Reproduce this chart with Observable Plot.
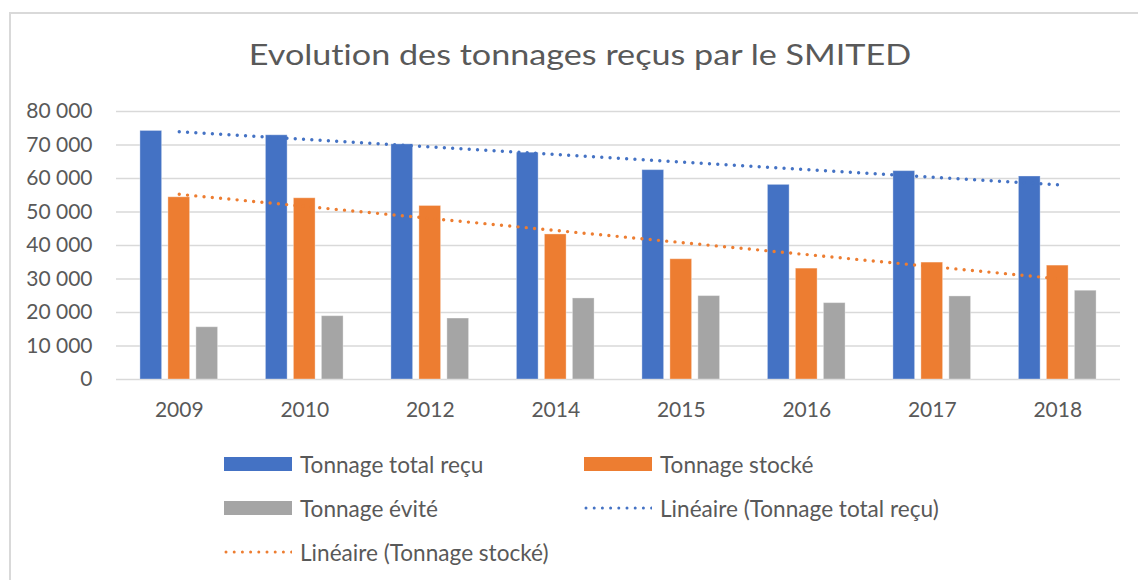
<!DOCTYPE html>
<html>
<head>
<meta charset="utf-8">
<script src="https://cdn.jsdelivr.net/npm/d3@7"></script>
<script src="https://cdn.jsdelivr.net/npm/@observablehq/plot@0.6"></script>
<style>
  html, body { margin: 0; padding: 0; background: #fff; }
  #wrap { position: relative; width: 1138px; height: 580px; overflow: hidden; font-family: Lato, sans-serif; color: #595959; font-variant-ligatures: none; }
  #frame { position: absolute; left: 9px; top: 12px; width: 1200px; height: 700px; border-left: 2px solid #d9d9d9; border-top: 2px solid #d9d9d9; }
  #title { position: absolute; left: 579.5px; top: 34px; transform: translateX(-50%) scaleX(1.22); white-space: nowrap; font-size: 28px; line-height: 40px; color: #595959; }
  #chart { position: absolute; left: 0; top: 90px; }
  .leg { position: absolute; display: flex; align-items: center; font-size: 22.6px; white-space: nowrap; color: #595959; }
  .leg svg { margin-right: 8px; }
</style>
</head>
<body>
<div id="wrap">
  <div id="frame"></div>
  <div id="title">Evolution des tonnages reçus par le SMITED</div>
  <div id="chart"></div>
  <div id="legend"></div>
</div>
<script>
// ---- data ----
const years = ["2009", "2010", "2012", "2014", "2015", "2016", "2017", "2018"];
const totalRecu = [74200, 72900, 70200, 67700, 62500, 58100, 62200, 60600];
const stocke = [54400, 54100, 51800, 43300, 35900, 33100, 34900, 34000];
const evite = [15600, 18900, 18200, 24200, 24900, 22800, 24800, 26500];
const seriesNames = ["Tonnage total reçu", "Tonnage stocké", "Tonnage évité"];
const trendNames = ["Linéaire (Tonnage total reçu)", "Linéaire (Tonnage stocké)"];
const yTicks = [0, 10000, 20000, 30000, 40000, 50000, 60000, 70000, 80000];

// ---- styles ----
const colors = ["#4472C4", "#ED7D31", "#A5A5A5"];
const offsets = [-0.223, 0, 0.223];
const barW = 0.173;

const rows = [];
[totalRecu, stocke, evite].forEach((vals, s) => {
  vals.forEach((v, i) => rows.push({i, s, year: years[i], series: seriesNames[s], value: v}));
});
const trendTotal = totalRecu.map((v, i) => ({i, value: v}));
const trendStock = stocke.map((v, i) => ({i, value: v}));

const fr = d3.formatLocale({decimal: ",", thousands: " ", grouping: [3], currency: ["", ""]});
const fmt = fr.format(",");

const dotted = {strokeWidth: 3.4, strokeDasharray: "0 8.3", strokeLinecap: "round", ci: 0};

const plot = Plot.plot({
  width: 1138,
  height: 340,
  marginTop: 21,
  marginBottom: 51,
  marginLeft: 116,
  marginRight: 18,
  style: {fontFamily: "Lato, sans-serif", fontSize: "21px", color: "#595959", background: "transparent"},
  x: {type: "linear", domain: [-0.5, 7.5]},
  y: {domain: [0, 80000]},
  marks: [
    Plot.ruleY(yTicks, {stroke: "#d9d9d9", strokeWidth: 1.6}),
    Plot.rectY(rows, {
      x1: d => d.i + offsets[d.s] - barW / 2,
      x2: d => d.i + offsets[d.s] + barW / 2,
      y1: 0,
      y2: "value",
      fill: d => colors[d.s],
      stroke: "#ffffff",
      strokeOpacity: 0.35,
      strokeWidth: 1
    }),
    Plot.linearRegressionY(trendTotal, {x: "i", y: "value", stroke: colors[0], ...dotted}),
    Plot.linearRegressionY(trendStock, {x: "i", y: "value", stroke: colors[1], ...dotted}),
    Plot.axisY(yTicks, {tickSize: 0, tickPadding: 24, tickFormat: fmt, label: null}),
    Plot.axisX(d3.range(years.length), {tickSize: 0, tickPadding: 23, tickFormat: i => years[i], label: null})
  ]
});
document.getElementById("chart").appendChild(plot);

// ---- legend ----
const legendItems = [
  {label: seriesNames[0], kind: "bar", color: colors[0], x: 224, y: 464},
  {label: seriesNames[1], kind: "bar", color: colors[1], x: 584, y: 464},
  {label: seriesNames[2], kind: "bar", color: colors[2], x: 224, y: 508},
  {label: trendNames[0], kind: "dot", color: colors[0], x: 584, y: 508},
  {label: trendNames[1], kind: "dot", color: colors[1], x: 224, y: 552}
];
const legend = document.getElementById("legend");
legendItems.forEach(it => {
  const div = document.createElement("div");
  div.className = "leg";
  div.style.left = it.x + "px";
  div.style.top = (it.y - 15) + "px";
  div.style.height = "30px";
  const ns = "http://www.w3.org/2000/svg";
  const svg = document.createElementNS(ns, "svg");
  svg.setAttribute("width", 68);
  svg.setAttribute("height", 16);
  if (it.kind === "bar") {
    const r = document.createElementNS(ns, "rect");
    r.setAttribute("x", 0); r.setAttribute("y", 1);
    r.setAttribute("width", 68); r.setAttribute("height", 14);
    r.setAttribute("fill", it.color);
    svg.appendChild(r);
  } else {
    const l = document.createElementNS(ns, "line");
    l.setAttribute("x1", 2); l.setAttribute("x2", 68);
    l.setAttribute("y1", 8); l.setAttribute("y2", 8);
    l.setAttribute("stroke", it.color);
    l.setAttribute("stroke-width", 3);
    l.setAttribute("stroke-linecap", "round");
    l.setAttribute("stroke-dasharray", "0 8.2");
    svg.appendChild(l);
  }
  const span = document.createElement("span");
  span.textContent = it.label;
  div.appendChild(svg);
  div.appendChild(span);
  legend.appendChild(div);
});
</script>
</body>
</html>
